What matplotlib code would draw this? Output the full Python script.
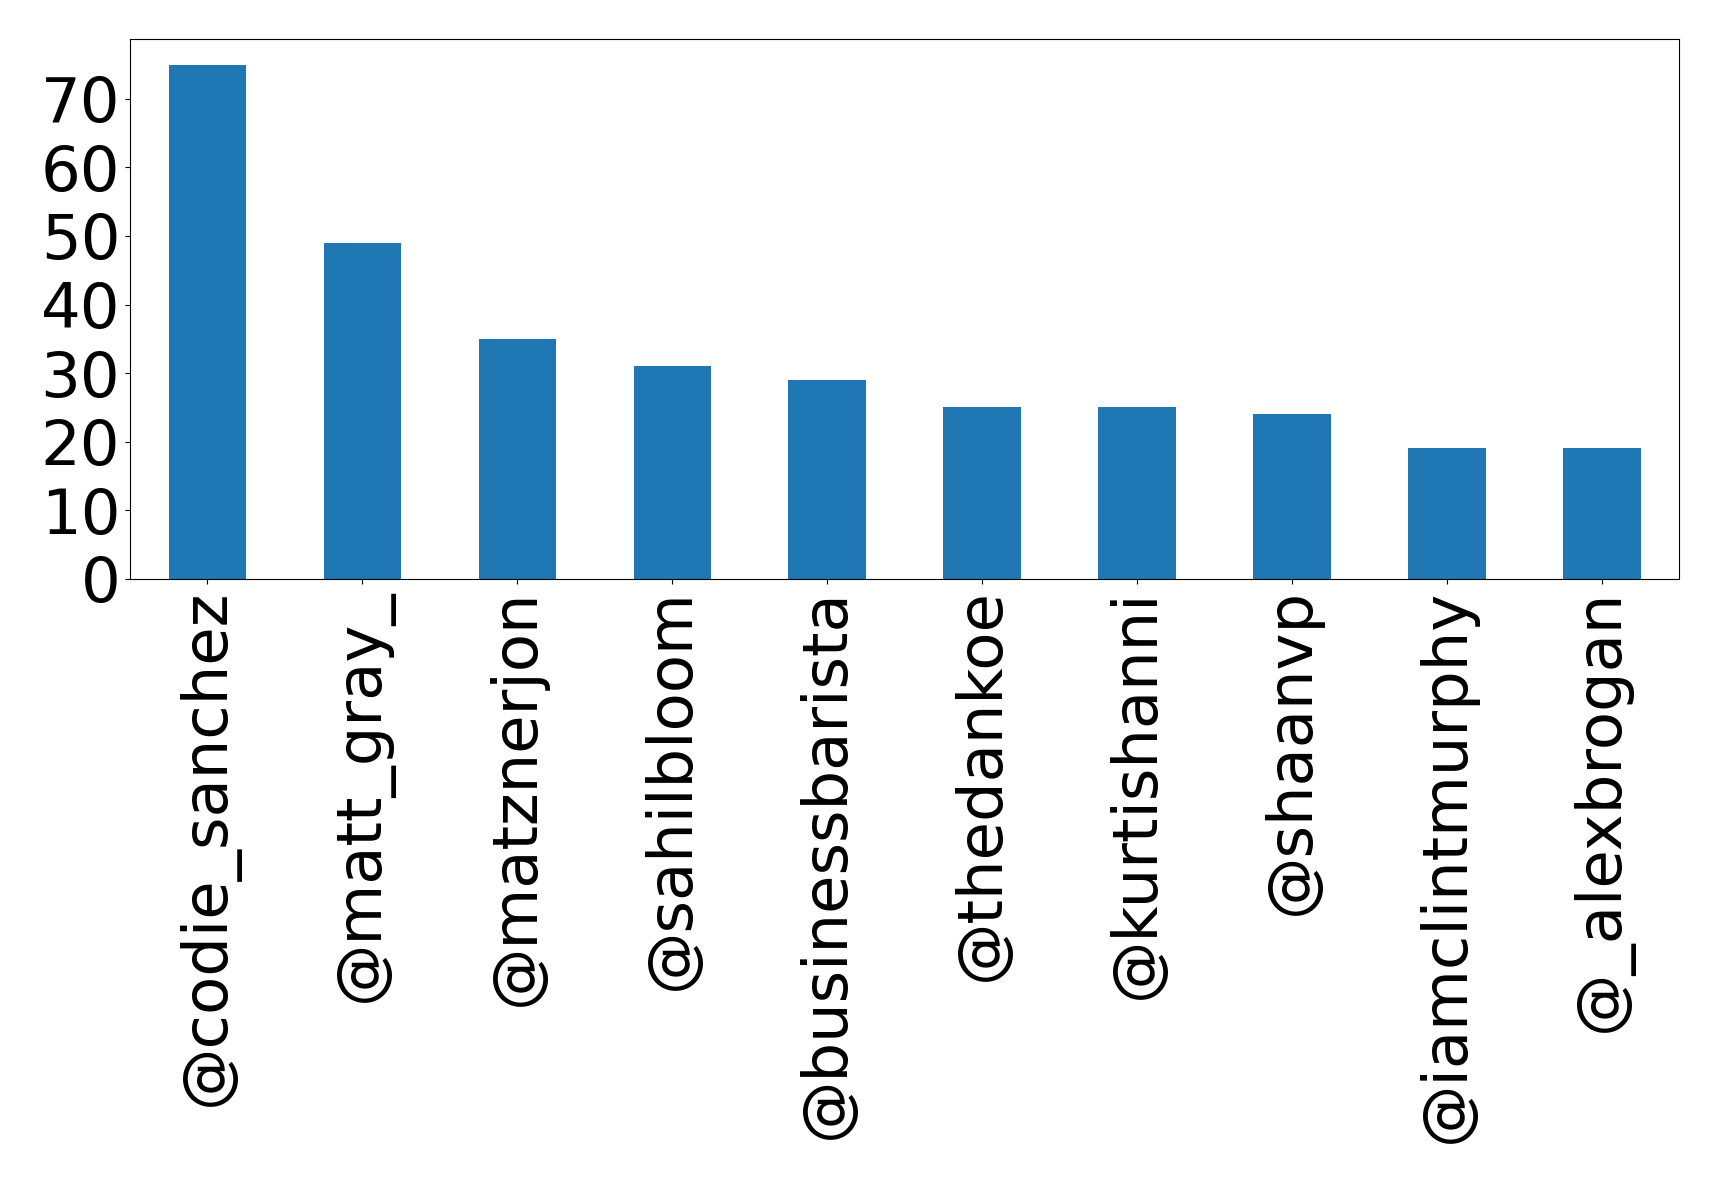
import numpy as np
import matplotlib
matplotlib.use('Agg')
import matplotlib.pyplot as plt

# Дані
accounts = ['@codie_sanchez', '@matt_gray_', '@matznerjon', '@sahilbloom',
            '@businessbarista', '@thedankoe', '@kurtishanni', '@shaanvp',
            '@iamclintmurphy', '@_alexbrogan']
counts = [75, 49, 35, 31, 29, 25, 25, 24, 19, 19]
yticks = [0, 10, 20, 30, 40, 50, 60, 70]

fig, ax = plt.subplots(figsize=(17.19, 11.82), dpi=100)
fig.subplots_adjust(left=0.0756, right=0.977, top=0.967, bottom=0.5105)

x = np.arange(len(accounts))
ax.bar(x, counts, width=0.5, color='#1f77b4')
ax.set_xlim(-0.5, len(accounts) - 0.5)
ax.set_ylim(0, max(counts) * 1.05)
ax.set_yticks(yticks)
ax.set_xticks(x)
ax.set_xticklabels(accounts, rotation=90)
ax.tick_params(labelsize=45)

plt.savefig('out.png', dpi=100)
